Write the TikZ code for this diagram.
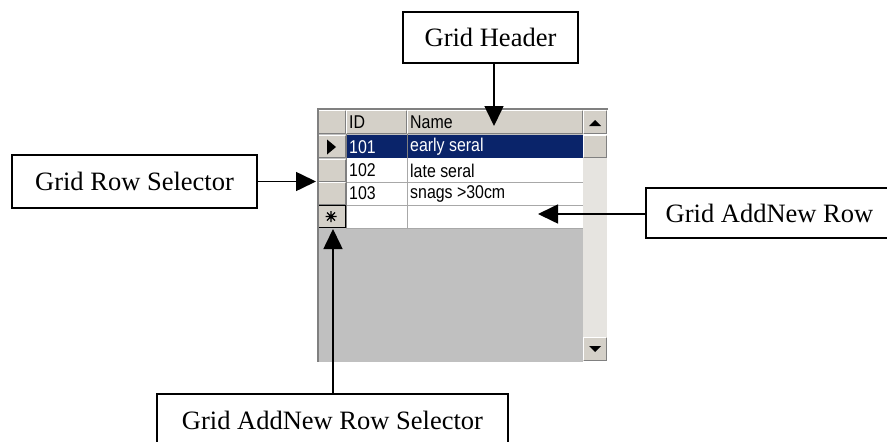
\documentclass[tikz,border=0pt]{standalone}
\usepackage{fontspec}
\setmainfont{Liberation Serif}
\newfontfamily\gridfont[FakeStretch=0.86]{Liberation Sans}
\usetikzlibrary{arrows.meta}
\definecolor{btn}{HTML}{D4D0C8}
\definecolor{dkgray}{HTML}{808080}
\definecolor{navy}{HTML}{0A246A}
\definecolor{area}{HTML}{C0C0C0}
\definecolor{track}{HTML}{E6E4E0}
\definecolor{gline}{HTML}{A8A8A8}
\newcommand\rbtn[4]{%
  \fill[btn] (#1,#2) rectangle (#3,#4);
  \draw[white, line width=1.2pt] (#1+0.8,#4-0.8) -- (#1+0.8,#2+0.8) -- (#3-0.8,#2+0.8);
  \draw[dkgray, line width=1.2pt] (#1+0.8,#4-0.8) -- (#3-0.8,#4-0.8) -- (#3-0.8,#2+0.8);
}
\tikzset{
  lbl/.style={draw=black, line width=1.6pt, fill=white, inner sep=0pt, outer sep=0pt,
    font=\fontsize{26.5}{30}\selectfont},
  conn/.style={draw=black, line width=1.6pt, -{Triangle[length=20pt,width=19pt]}},
  celltxt/.style={anchor=west, inner sep=0pt, font=\gridfont\fontsize{18.5}{20}\selectfont},
}
\begin{document}
\begin{tikzpicture}[x=1pt,y=-1pt]
\useasboundingbox (0,0) rectangle (887,442);
\clip (0,0) rectangle (887,442);
% ---------- grid ----------
\fill[area] (317,108) rectangle (583,363);
% header row
\rbtn{317}{110}{346}{134}
\rbtn{346}{110}{407}{134}
\rbtn{407}{110}{583}{134}
% selector column
\rbtn{317}{135}{346}{158}
\rbtn{317}{159}{346}{182}
\rbtn{317}{182}{346}{205}
\rbtn{317}{205}{346}{228}
\draw[black, line width=1.2pt] (317.6,205.6) rectangle (345.6,227.6);
% data cells
\fill[white] (346,158) rectangle (583,228);
\fill[navy] (346,135) rectangle (583,158);
\draw[gline, line width=1pt] (346,182) -- (583,182) (346,205) -- (583,205) (346,228) -- (583,228);
\draw[gline, line width=1pt] (407,158) -- (407,228);
\draw[dkgray, line width=1pt] (346.5,134) -- (346.5,228);
\draw[dkgray, line width=1pt] (407,134) -- (407,158);
% scrollbar
\rbtn{583}{110}{607}{134}
\rbtn{583}{135}{607}{158}
\fill[track] (583,158) rectangle (607,337);
\rbtn{583}{337}{607}{361}
\fill[black] (589,126) -- (601,126) -- (595,120) -- cycle;
\fill[black] (589,346) -- (601,346) -- (595,352) -- cycle;
% frame
\draw[dkgray, line width=2pt] (318,363) -- (318,108.5) -- (608,108.5);
\draw[white, line width=1pt] (317,362.5) -- (608,362.5);
% row marker and new-row star
\fill[black] (327,139.5) -- (327,154.5) -- (336,147) -- cycle;
\draw[black, line width=1.1pt] (325.5,216.5) -- (336.5,216.5) (331,211) -- (331,222)
  (327,212.5) -- (335,220.5) (327,220.5) -- (335,212.5);
% cell texts
\node[celltxt] (hid) at (349,122) {ID};
\node[celltxt] (hname) at (410,122) {Name};
\node[celltxt, text=white] (c11) at (349,147) {101};
\node[celltxt, text=white] (c12) at (410,147) {early seral};
\node[celltxt] (c21) at (349,170.5) {102};
\node[celltxt] (c22) at (410,170.5) {late seral};
\node[celltxt] (c31) at (349,193.5) {103};
\node[celltxt] (c32) at (410,193.5) {snags >30cm};
% ---------- callouts ----------
\node[lbl, minimum width=175pt, minimum height=51pt, anchor=north west] (hdr) at (403,12) {Grid Header};
\node[lbl, minimum width=245pt, minimum height=53pt, anchor=north west] (rowsel) at (12,155) {Grid Row Selector};
\node[lbl, minimum width=247pt, minimum height=50pt, anchor=north west] (addnew) at (646,188) {Grid AddNew Row};
\node[lbl, minimum width=351pt, minimum height=52pt, anchor=north west] (addsel) at (157,394) {Grid AddNew Row Selector};
\coordinate (hdrtgt) at (494,126);
\coordinate (rowtgt) at (316,181.5);
\coordinate (addtgt) at (538,214);
\coordinate (seltgt) at (333,229);
\draw[conn] (hdrtgt |- hdr.south) -- (hdrtgt);
\draw[conn] (rowsel.east) -- (rowtgt);
\draw[conn] (addtgt -| addnew.west) -- (addtgt);
\draw[conn] (seltgt |- addsel.north) -- (seltgt);
\end{tikzpicture}
\end{document}
